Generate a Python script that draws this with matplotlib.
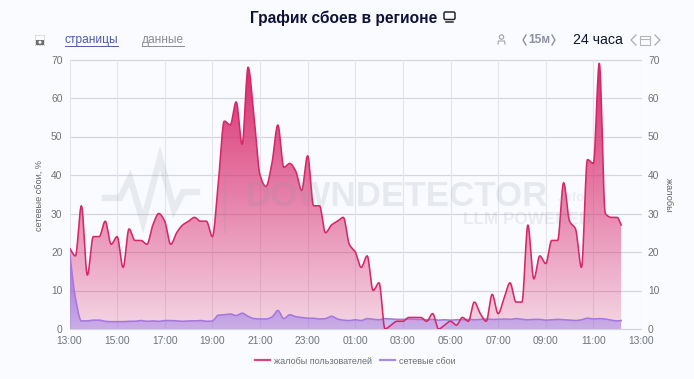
import matplotlib
matplotlib.use("Agg")
import matplotlib.pyplot as plt
import numpy as np
from matplotlib.patches import Circle, FancyBboxPatch, PathPatch, Rectangle
from matplotlib.path import Path

plt.rcParams["font.family"] = ["Liberation Sans", "DejaVu Sans"]

# minutes after 13:00: every 15 min, the last sample comes at 12:10
last_sample_minute = 1390
complaints = [
    21, 19, 32, 14, 24, 24, 28, 22, 24, 16, 26, 23,
    23, 22, 27, 30, 28, 22, 25, 27, 28, 29, 28, 28,
    24, 38, 54, 53, 59, 48, 68, 55, 40, 37, 43, 53,
    42, 43, 41, 36, 45, 32, 32, 25, 27, 28, 29, 22,
    20, 16, 19, 10, 12, 0, 1, 2, 2, 3, 3, 3,
    2, 4, 0, 1, 2, 1, 3, 2, 7, 4, 2, 9,
    4, 8, 12, 7, 7, 27, 13, 19, 17, 23, 23, 38,
    28, 26, 16, 44, 43, 69, 30, 29, 29, 27,
]
outages = [
    20, 8, 2.1, 2.1, 2.3, 2.3, 2.0, 1.9, 1.9, 1.9, 2.0, 2.0,
    2.2, 2.0, 2.1, 2.0, 2.2, 2.2, 2.1, 2.0, 2.1, 2.1, 2.2, 2.0,
    2.1, 3.6, 3.7, 3.9, 3.5, 4.1, 3.3, 2.7, 2.6, 2.6, 3.1, 4.8,
    2.7, 3.7, 3.2, 3.0, 2.8, 2.8, 2.6, 2.7, 3.3, 2.6, 2.3, 2.2,
    2.4, 2.2, 2.7, 2.5, 2.4, 2.7, 2.6, 2.5, 2.5, 2.6, 2.5, 2.5,
    2.4, 2.5, 2.3, 2.4, 2.3, 2.4, 2.4, 2.5, 2.4, 2.5, 2.6, 2.5,
    2.5, 2.6, 2.5, 2.7, 2.5, 2.4, 2.5, 2.5, 2.3, 2.4, 2.5, 2.4,
    2.3, 2.2, 2.4, 2.8, 2.6, 2.7, 2.6, 2.3, 2.1, 2.2,
]
x_tick_labels = ["13:00", "15:00", "17:00", "19:00", "21:00", "23:00", "01:00",
                 "03:00", "05:00", "07:00", "09:00", "11:00", "13:00"]
y_ticks = [0, 10, 20, 30, 40, 50, 60, 70]

W, H = 694, 379
BG = "#fafbfe"
PINK = "#d62867"
PURPLE = "#a678dd"
TICK = "#6f7378"


def monotone_curve(x, y, per_seg=12):
    # same kind of smoothing as the site chart, keeps peaks flat-topped
    x, y = np.asarray(x, float), np.asarray(y, float)
    h = np.diff(x)
    d = np.diff(y) / h
    m = np.zeros_like(y)
    m[0], m[-1] = d[0], d[-1]
    for i in range(1, len(y) - 1):
        if d[i - 1] * d[i] > 0:
            w1, w2 = 2 * h[i] + h[i - 1], h[i] + 2 * h[i - 1]
            m[i] = (w1 + w2) / (w1 / d[i - 1] + w2 / d[i])
    xs, ys = [], []
    for i in range(len(h)):
        t = np.linspace(0, 1, per_seg, endpoint=False)
        xs.append(x[i] + t * h[i])
        ys.append((2*t**3 - 3*t**2 + 1) * y[i] + (t**3 - 2*t**2 + t) * h[i] * m[i]
                  + (-2*t**3 + 3*t**2) * y[i + 1] + (t**3 - t**2) * h[i] * m[i + 1])
    xs.append(x[-1:])
    ys.append(y[-1:])
    return np.concatenate(xs), np.concatenate(ys)


def gradient_area(ax, xs, ys, rgb, alpha_bottom, alpha_top, y_top, zorder):
    alpha = np.linspace(alpha_top, alpha_bottom, 256)
    img = np.zeros((256, 1, 4))
    img[..., :3] = rgb
    img[:, 0, 3] = alpha
    im = ax.imshow(img, extent=(0, 1440, 0, y_top), aspect="auto", zorder=zorder,
                   interpolation="bilinear")
    verts = np.column_stack([np.r_[xs[0], xs, xs[-1]], np.r_[0, ys, 0]])
    clip = PathPatch(Path(verts), transform=ax.transData, fc="none", ec="none")
    ax.add_patch(clip)
    im.set_clip_path(clip)


minutes = [15 * i for i in range(len(complaints) - 1)] + [last_sample_minute]

fig = plt.figure(figsize=(W / 100, H / 100), dpi=100, facecolor=BG)
ax = fig.add_axes([69.5 / W, 1 - 329 / H, (641 - 69.5) / W, (329 - 59.5) / H], facecolor=BG)

for y in y_ticks:
    ax.axhline(y, color="#d3d6dc", lw=0.9, zorder=1, clip_on=False)
for m in range(0, 1441, 120):
    ax.axvline(m, color="#e3e5ea", lw=0.8, zorder=1)

cx, cy = monotone_curve(minutes, complaints)
gradient_area(ax, cx, cy, (0.85, 0.16, 0.42), 0.18, 1.0, 70, 2)
ox, oy = monotone_curve(minutes, outages)
gradient_area(ax, ox, oy, (0.58, 0.47, 0.92), 0.42, 0.9, 20, 3)

line_c, = ax.plot(cx, cy, color=PINK, lw=1.15, zorder=5, label="жалобы пользователей")
line_o, = ax.plot(ox, oy, color=PURPLE, lw=1.15, zorder=4, label="сетевые сбои")

ax.set_xlim(0, 1440)
ax.set_ylim(0, 70)
ax.set_xticks(range(0, 1441, 120))
ax.set_xticklabels(x_tick_labels)
ax.set_yticks(y_ticks)
ax.tick_params(axis="both", length=0, labelsize=7.4, labelcolor=TICK)
ax.tick_params(axis="x", pad=5)
ax.tick_params(axis="y", pad=5, labelleft=True, labelright=True)
for s in ax.spines.values():
    s.set_visible(False)

fig.text(40.5 / W, 1 - 195 / H, "сетевые сбои, %", rotation=90, ha="center", va="center",
         fontsize=6.6, color="#5f6367")
fig.text(668 / W, 1 - 195 / H, "жалобы", rotation=270, ha="center", va="center",
         fontsize=6.6, color="#5f6367")

leg_lines = [plt.Line2D([], [], color="#d9447f", lw=1.6), plt.Line2D([], [], color="#a88be8", lw=1.6)]
fig.legend(leg_lines, [line_c.get_label(), line_o.get_label()], loc="center",
           bbox_to_anchor=(355.5 / W, 1 - 361 / H), ncol=2, frameon=False, fontsize=6.5,
           labelcolor="#6a6e73", handlelength=1.65, handletextpad=0.45, columnspacing=0.9)

# header and watermark sit in an overlay measured in pixels
ov = fig.add_axes([0, 0, 1, 1], facecolor="none", zorder=10)
ov.set_xlim(0, W)
ov.set_ylim(H, 0)
ov.axis("off")

ov.text(343.5, 18, "График сбоев в регионе", ha="center", va="center", fontsize=11.2,
        fontweight="bold", color="#0d1238")
ov.add_patch(FancyBboxPatch((444, 12), 11, 7.5, boxstyle="round,pad=0,rounding_size=1.5",
                            fc="none", ec="#22252e", lw=1.1))
ov.plot([446, 453], [21.5, 21.5], color="#22252e", lw=1.1)

ov.add_patch(Rectangle((35, 35), 9, 10, fc="none", ec="#c4c6cb", lw=0.6, ls=(0, (2, 1))))
ov.add_patch(Rectangle((36, 39.5), 8, 5.5, fc="#6d6f73", ec="none"))
ov.add_patch(Circle((40, 42.2), 1.5, fc="#fafbfe", ec="none"))

ov.text(65, 40.3, "страницы", ha="left", va="center", fontsize=8.6, color="#4f5aa8")
ov.plot([65, 118], [45.5, 45.5], color="#4f5aa8", lw=0.7)
ov.text(142, 40.3, "данные", ha="left", va="center", fontsize=8.6, color="#8a8c92")
ov.plot([142, 184], [45.5, 45.5], color="#8a8c92", lw=0.7)

ov.add_patch(Circle((501.5, 37), 2.2, fc="none", ec="#a0a3ab", lw=0.8))
ov.plot([498, 498.5, 504.5, 505], [44, 41, 41, 44], color="#a0a3ab", lw=0.8)
ov.plot([526, 523, 526], [35, 40, 45], color="#8d8fa3", lw=1.0)
ov.text(539, 40, "15м", ha="center", va="center", fontsize=8.6, fontweight="bold", color="#8d8fa3")
ov.plot([552, 555, 552], [35, 40, 45], color="#8d8fa3", lw=1.0)
ov.text(598, 39.5, "24 часа", ha="center", va="center", fontsize=10.2, color="#111430")
ov.plot([636, 631, 636], [35, 40, 45], color="#a9abb3", lw=0.9)
ov.add_patch(Rectangle((640, 35.5), 10, 9.5, fc="none", ec="#b4b6bd", lw=0.8))
ov.plot([640, 650], [38.5, 38.5], color="#b4b6bd", lw=0.8)
ov.plot([655, 660, 655], [35, 40, 45], color="#a9abb3", lw=0.9)

WM = "#8996a3"
ov.plot([105, 120, 130, 143, 160, 174, 183, 197], [198, 198, 178, 222, 158, 210, 192, 192],
        color=WM, alpha=0.16, lw=4.6, solid_joinstyle="miter", zorder=6)
ov.plot([225, 225], [173, 232], color=WM, alpha=0.16, lw=1.6, zorder=6)
ov.text(246, 196, "DOWNDETECTOR", ha="left", va="center", fontsize=25.2, fontweight="bold",
        color=WM, alpha=0.17)
ov.text(556, 198, ".info", ha="left", va="center", fontsize=9.5, fontweight="bold", color=WM, alpha=0.12)
ov.text(463, 219.5, "LLM POWERED", ha="left", va="center", fontsize=12.3, fontweight="bold",
        color=WM, alpha=0.15)

fig.savefig("out.png", dpi=100, facecolor=BG)
plt.close(fig)
